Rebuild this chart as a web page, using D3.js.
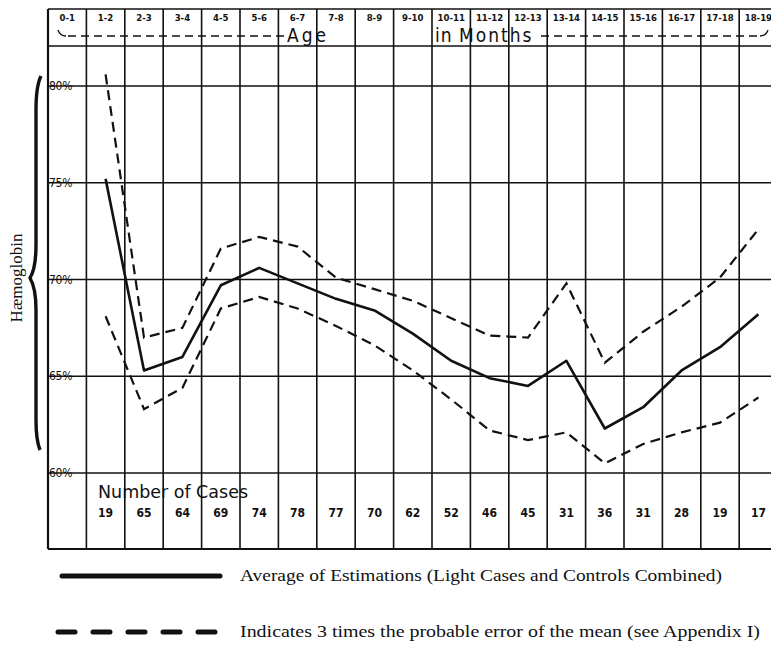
<!DOCTYPE html>
<html>
<head>
<meta charset="utf-8">
<script src="https://cdn.jsdelivr.net/npm/d3@7"></script>
<style>
body { margin: 0; background: #fff; }
svg { display: block; }
.grid { stroke: #111; stroke-width: 1.6; }
.hand { font-family: "DejaVu Sans Condensed", "DejaVu Sans", sans-serif; fill: #111; }
.serif { font-family: "Liberation Serif", "DejaVu Serif", serif; fill: #111; }
</style>
</head>
<body>
<div id="chart"></div>
<script>
// age groups (columns)
var ageGroups = ["0-1","1-2","2-3","3-4","4-5","5-6","6-7","7-8","8-9","9-10","10-11","11-12","12-13","13-14","14-15","15-16","16-17","17-18","18-19"];
// number of cases, one per column (none for 0-1)
var cases = [null,19,65,64,69,74,78,77,70,62,52,46,45,31,36,31,28,19,17];
// average haemoglobin %
var meanVals = [null,75.2,65.3,66.0,69.7,70.6,69.8,69.0,68.4,67.2,65.8,64.9,64.5,65.8,62.3,63.4,65.3,66.5,68.2];
// mean + 3 x probable error
var upperVals = [null,80.6,67.0,67.5,71.6,72.2,71.7,70.1,69.5,68.9,68.0,67.1,67.0,69.8,65.7,67.3,68.6,70.1,72.6];
// mean - 3 x probable error
var lowerVals = [null,68.1,63.3,64.4,68.5,69.1,68.5,67.6,66.6,65.3,63.8,62.2,61.7,62.1,60.5,61.5,62.1,62.6,63.9];
var yTicks = [60,65,70,75,80];

var W = 771, H = 645;
var svg = d3.select("#chart").append("svg")
    .attr("width", W)
    .attr("height", H);

var left = 48, colW = 38.4;
var topY = 9, headY = 46, bottomY = 549;

var x = d3.scaleBand()
    .domain(ageGroups)
    .range([left, left + colW * ageGroups.length])
    .padding(0);

var y = d3.scaleLinear()
    .domain([60, 80])
    .range([473, 86]);

// vertical grid lines (column edges)
var edges = ageGroups.map(function(d){ return x(d); });
edges.push(x(ageGroups[ageGroups.length - 1]) + x.bandwidth());
svg.selectAll(".vline")
    .data(edges)
    .enter().append("line")
    .attr("class", "grid")
    .attr("x1", function(d){ return d; })
    .attr("x2", function(d){ return d; })
    .attr("y1", topY)
    .attr("y2", bottomY)
    .style("stroke-width", function(d, i){ return i === 0 ? 2.2 : 1.6; });

// horizontal lines: frame + y ticks
var hl = [topY, headY, bottomY].concat(yTicks.map(function(t){ return y(t); }));
svg.selectAll(".hline")
    .data(hl)
    .enter().append("line")
    .attr("class", "grid")
    .attr("x1", left)
    .attr("x2", W)
    .attr("y1", function(d){ return d; })
    .attr("y2", function(d){ return d; })
    .style("stroke-width", function(d){ return d === bottomY ? 2.2 : 1.6; });

// column labels
svg.selectAll(".colLab")
    .data(ageGroups)
    .enter().append("text")
    .attr("class", "hand")
    .attr("x", function(d){ return x(d) + x.bandwidth() / 2; })
    .attr("y", 21)
    .attr("text-anchor", "middle")
    .style("font-size", "9.5px")
    .style("font-weight", "bold")
    .text(function(d){ return d; });

// "Age in Months" with dashed guide
var dashStyle = "8,5";
svg.append("path")
    .attr("d", "M58,30 Q60,36 66,36")
    .attr("fill", "none").attr("stroke", "#111").attr("stroke-width", 1.3);
svg.append("line")
    .attr("x1", 68).attr("x2", 284).attr("y1", 36).attr("y2", 36)
    .attr("stroke", "#111").attr("stroke-width", 1.3).attr("stroke-dasharray", dashStyle);
svg.append("line")
    .attr("x1", 541).attr("x2", 760).attr("y1", 36).attr("y2", 36)
    .attr("stroke", "#111").attr("stroke-width", 1.3).attr("stroke-dasharray", dashStyle);
svg.append("path")
    .attr("d", "M760,36 Q766,36 768,30")
    .attr("fill", "none").attr("stroke", "#111").attr("stroke-width", 1.3);
svg.append("text").attr("class", "hand").attr("x", 287).attr("y", 42)
    .style("font-size", "19px").style("letter-spacing", "3px").text("Age");
svg.append("text").attr("class", "hand").attr("x", 435).attr("y", 42)
    .style("font-size", "19px").style("letter-spacing", "1px").text("in");
svg.append("text").attr("class", "hand").attr("x", 459).attr("y", 42)
    .style("font-size", "19px").style("letter-spacing", "2px").text("Months");

// y tick labels
svg.selectAll(".yLab")
    .data(yTicks)
    .enter().append("text")
    .attr("class", "hand")
    .attr("x", 49)
    .attr("y", function(d){ return y(d) + 4; })
    .style("font-size", "12px")
    .style("letter-spacing", "-0.3px")
    .text(function(d){ return d + "%"; });

// y title and brace
svg.append("text")
    .attr("class", "serif")
    .attr("transform", "translate(22,278) rotate(-90)")
    .attr("text-anchor", "middle")
    .style("font-size", "17px")
    .text("Hæmoglobin");
svg.append("path")
    .attr("d", "M41,76 Q36,86 36,110 L36,245 Q36,268 30,278 Q36,288 36,310 L36,420 Q36,440 40,450")
    .attr("fill", "none")
    .attr("stroke", "#111")
    .attr("stroke-width", 3.4);

// lines
var cx = function(d){ return x(d.age) + x.bandwidth() / 2; };
var line = d3.line()
    .defined(function(d){ return d.v != null; })
    .x(cx)
    .y(function(d){ return y(d.v); });
function series(vals){
    return ageGroups.map(function(a, i){ return {age: a, v: vals[i]}; });
}
svg.append("path")
    .attr("d", line(series(upperVals)))
    .attr("fill", "none").attr("stroke", "#111")
    .attr("stroke-width", 2.2).attr("stroke-dasharray", "10,6");
svg.append("path")
    .attr("d", line(series(lowerVals)))
    .attr("fill", "none").attr("stroke", "#111")
    .attr("stroke-width", 2.2).attr("stroke-dasharray", "10,6");
svg.append("path")
    .attr("d", line(series(meanVals)))
    .attr("fill", "none").attr("stroke", "#111")
    .attr("stroke-width", 2.6).attr("stroke-linejoin", "round");

// number of cases
svg.append("text")
    .attr("class", "hand")
    .attr("x", 98).attr("y", 498)
    .attr("textLength", 150).attr("lengthAdjust", "spacingAndGlyphs")
    .style("font-size", "18px")
    .text("Number of Cases");
svg.selectAll(".nLab")
    .data(ageGroups.filter(function(d, i){ return cases[i] != null; }))
    .enter().append("text")
    .attr("class", "hand")
    .attr("x", function(d){ return x(d) + x.bandwidth() / 2; })
    .attr("y", 517)
    .attr("text-anchor", "middle")
    .style("font-size", "12px")
    .style("font-weight", "bold")
    .text(function(d){ return cases[ageGroups.indexOf(d)]; });

// legend
svg.append("line")
    .attr("x1", 62).attr("x2", 220).attr("y1", 576).attr("y2", 576)
    .attr("stroke", "#111").attr("stroke-width", 5).attr("stroke-linecap", "round");
svg.append("text").attr("class", "serif")
    .attr("x", 240).attr("y", 581)
    .attr("textLength", 482).attr("lengthAdjust", "spacingAndGlyphs")
    .style("font-size", "16px")
    .text("Average of Estimations (Light Cases and Controls Combined)");
svg.append("line")
    .attr("x1", 58).attr("x2", 220).attr("y1", 632).attr("y2", 632)
    .attr("stroke", "#111").attr("stroke-width", 5).attr("stroke-linecap", "round")
    .attr("stroke-dasharray", "17,18");
svg.append("text").attr("class", "serif")
    .attr("x", 240).attr("y", 637)
    .attr("textLength", 520).attr("lengthAdjust", "spacingAndGlyphs")
    .style("font-size", "16px")
    .text("Indicates 3 times the probable error of the mean (see Appendix I)");
</script>
</body>
</html>
